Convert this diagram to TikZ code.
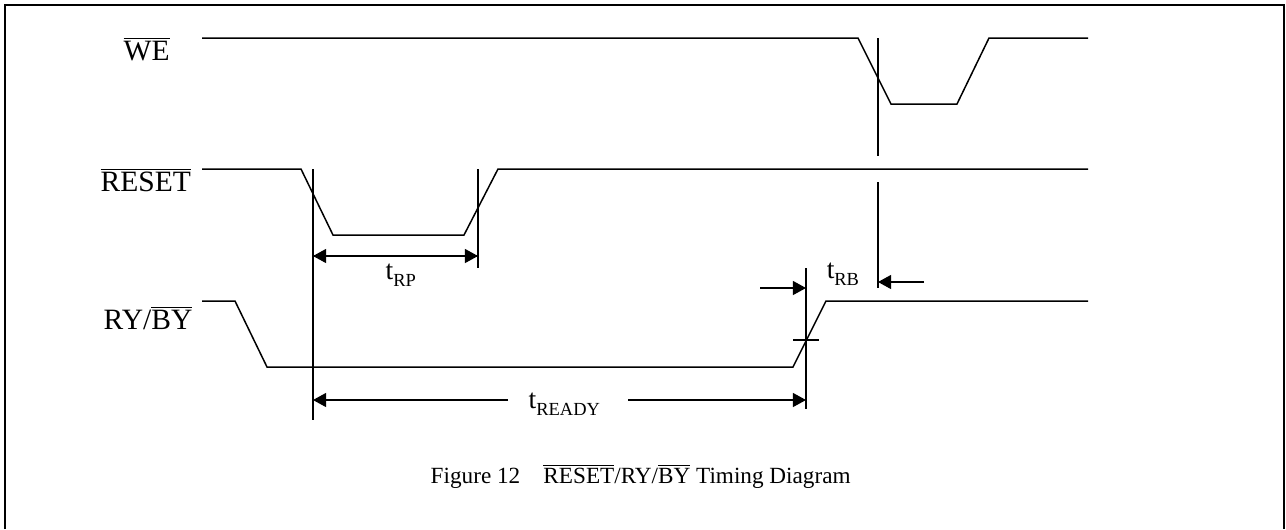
\documentclass[tikz,border=0pt]{standalone}
\usepackage{fontspec}
\setmainfont{Liberation Serif}
\usetikzlibrary{arrows.meta}
\newcommand{\ovl}[1]{$\overline{\mbox{#1}}$}
\newcommand{\tsub}[1]{t\raisebox{-4.5pt}{\fontsize{10.5}{12}\selectfont #1}}

\begin{document}
\begin{tikzpicture}[x=0.02cm,y=-0.02cm,color=black,every path/.append style={line width=0.85pt},
	siglabel/.style={anchor=base west,inner sep=0pt,font=\fontsize{16.8}{20}\selectfont},
	timelabel/.style={anchor=base west,inner sep=0pt,font=\fontsize{15.7}{18}\selectfont},
	dimarrow/.style={-{Triangle[length=7.5pt,width=8pt]}}]
\useasboundingbox (0,0) rectangle (1286,529);
\draw (5,529) -- (5,5) -- (1284,5) -- (1284,529);
% signal names
\node(WE) [siglabel] at (123,60) {\ovl{WE}};
\node(RESET) [siglabel] at (100,191) {\ovl{RESET}};
\node(RYBY) [siglabel] at (103,329) {RY/\ovl{BY}};
% waveforms
\draw (202,38) -- (858,38) -- (891,104) -- (957,104) -- (989,38) -- (1088,38);
\draw (202,169) -- (301,169) -- (333,235) -- (464,235) -- (498,169) -- (1088,169);
\draw (202,301) -- (235,301) -- (267,367) -- (793,367) -- (826,301) -- (1088,301);
% reference lines
\coordinate(M1t) at (313,169); \coordinate(M1b) at (313,420);
\coordinate(M2t) at (478,169); \coordinate(M2b) at (478,268);
\coordinate(M3t) at (806,268); \coordinate(M3b) at (806,409);
\coordinate(M4t) at (878,38);  \coordinate(M4m) at (878,156);
\coordinate(M4n) at (878,182); \coordinate(M4b) at (878,288);
\draw (M1t) -- (M1b);
\draw (M2t) -- (M2b);
\draw (M3t) -- (M3b);
\draw (M4t) -- (M4m);
\draw (M4n) -- (M4b);
\coordinate(TKl) at (793,340); \coordinate(TKr) at (819,340);
\draw (TKl) -- (TKr);
% t_RP
\coordinate(RPl) at (313,256); \coordinate(RPr) at (478,256);
\draw [dimarrow] (RPl) -- (RPr);
\draw [dimarrow] (RPr) -- (RPl);
\node(tRP) [timelabel] at (385,279) {\tsub{RP}};
% t_READY
\coordinate(RDl) at (313,400); \coordinate(RDr) at (806,400);
\coordinate(RDa) at (508,400); \coordinate(RDb) at (628,400);
\draw [dimarrow] (RDa) -- (RDl);
\draw [dimarrow] (RDb) -- (RDr);
\node(tREADY) [timelabel] at (528,408) {\tsub{READY}};
% t_RB
\coordinate(RBl) at (760,288); \coordinate(RBla) at (806,288);
\coordinate(RBr) at (924,282); \coordinate(RBra) at (878,282);
\draw [dimarrow] (RBl) -- (RBla);
\draw [dimarrow] (RBr) -- (RBra);
\node(tRB) [timelabel] at (826,278) {\tsub{RB}};
% caption
\node(caption) [anchor=base west,inner sep=0pt,font=\fontsize{13.2}{16}\selectfont] at (430,483)
	{Figure 12\hspace{1em}\ovl{RESET}/RY/\ovl{BY} Timing Diagram};
\end{tikzpicture}
\end{document}
